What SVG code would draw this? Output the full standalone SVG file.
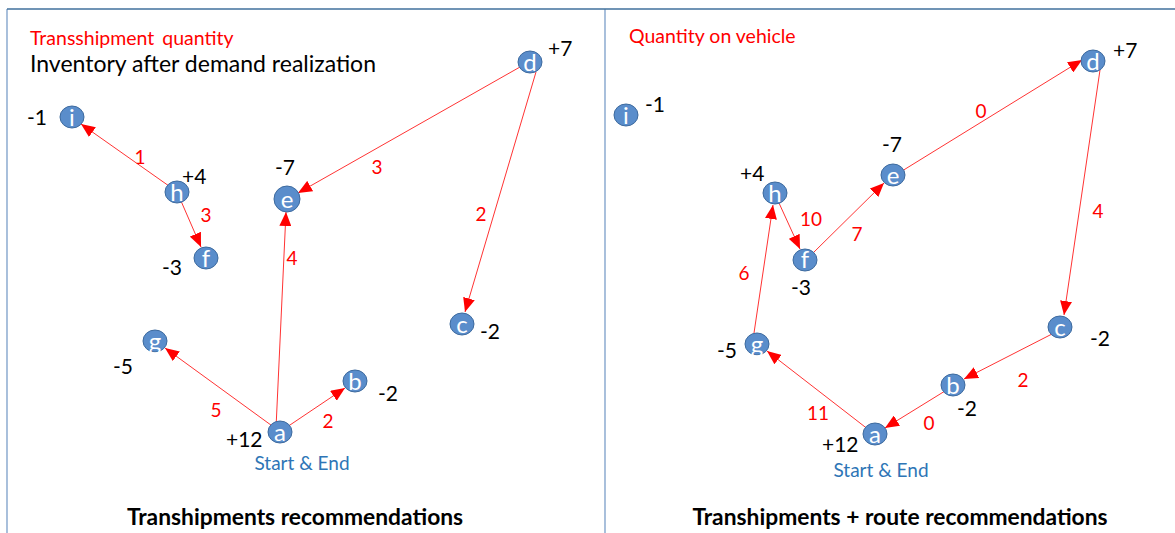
<svg xmlns="http://www.w3.org/2000/svg" width="1175" height="533" viewBox="0 0 1175 533">
<style>
.frame{stroke:#6f95c4;stroke-width:1.2;fill:none}
.node ellipse{fill:#5a8dcb;stroke:#3d6a9e;stroke-width:1}
.node text.l{font-family:Lato,"Liberation Sans",sans-serif;font-size:24px;fill:#ffffff;text-anchor:middle}
.node text.v{font-family:Lato,"Liberation Sans",sans-serif;font-size:21px;fill:#000000}
.edge{stroke:#ff3333;stroke-width:1;fill:none;marker-end:url(#ah)}
.el{font-family:Lato,"Liberation Sans",sans-serif;font-size:19px;fill:#ff0000;text-anchor:middle}
.red{font-family:Lato,"Liberation Sans",sans-serif;font-size:19.5px;fill:#ff0000}
.blk{font-family:Lato,"Liberation Sans",sans-serif;font-size:23px;fill:#000000}
.se{font-family:Lato,"Liberation Sans",sans-serif;font-size:19px;fill:#2e75b6;text-anchor:middle}
.title{font-family:Lato,"Liberation Sans",sans-serif;font-size:22.8px;font-weight:bold;fill:#000000;text-anchor:middle}
</style>
<defs>
<marker id="ah" viewBox="0 0 14 12" refX="14" refY="6" markerWidth="14" markerHeight="12" markerUnits="userSpaceOnUse" orient="auto">
<path d="M0,0 L14,6 L0,12 z" fill="#ff0000"/>
</marker>
</defs>
<rect width="1175" height="533" fill="#ffffff"/>
<g id="frames">
<line class="frame" x1="7" y1="9" x2="7" y2="533"/>
<line class="frame" x1="605" y1="9" x2="605" y2="533"/>
<line x1="7" y1="9" x2="1175" y2="9" stroke="#41719c" stroke-width="1.5"/>
</g>
<g id="left-texts">
<text class="red" x="30" y="45" word-spacing="3">Transshipment quantity</text>
<text class="blk" x="30" y="72">Inventory after demand realization</text>
<text class="se" x="302" y="470">Start &amp; End</text>
<text class="title" x="295" y="525">Transhipments recommendations</text>
</g>
<g id="right-texts">
<text class="red" x="629" y="43">Quantity on vehicle</text>
<text class="se" x="881" y="477">Start &amp; End</text>
<text class="title" x="900" y="525">Transhipments + route recommendations</text>
</g>
<g id="connectors">
<line class="edge" x1="169" y1="186" x2="81" y2="124"/>
<line class="edge" x1="181" y1="201" x2="201" y2="247"/>
<line class="edge" x1="520" y1="67" x2="298" y2="193"/>
<line class="edge" x1="536" y1="72" x2="465" y2="312"/>
<line class="edge" x1="276" y1="428" x2="286" y2="212"/>
<line class="edge" x1="275" y1="428" x2="165" y2="348"/>
<line class="edge" x1="287" y1="427" x2="345" y2="388"/>
<line class="edge" x1="869" y1="430" x2="767" y2="351"/>
<line class="edge" x1="754" y1="333" x2="773" y2="205"/>
<line class="edge" x1="779" y1="203" x2="800" y2="249"/>
<line class="edge" x1="813" y1="253" x2="884" y2="183"/>
<line class="edge" x1="902" y1="171" x2="1082" y2="60"/>
<line class="edge" x1="1100" y1="70" x2="1064" y2="315"/>
<line class="edge" x1="1052" y1="334" x2="964" y2="379"/>
<line class="edge" x1="945" y1="391" x2="885" y2="428"/>
<text class="el" x="140" y="164">1</text>
<text class="el" x="206" y="222">3</text>
<text class="el" x="377" y="174">3</text>
<text class="el" x="481" y="221">2</text>
<text class="el" x="292" y="265">4</text>
<text class="el" x="216" y="417">5</text>
<text class="el" x="328" y="428">2</text>
<text class="el" x="818" y="420">11</text>
<text class="el" x="744" y="280">6</text>
<text class="el" x="811" y="226">10</text>
<text class="el" x="857" y="241">7</text>
<text class="el" x="981" y="118">0</text>
<text class="el" x="1098" y="218">4</text>
<text class="el" x="1023" y="387">2</text>
<text class="el" x="929" y="430">0</text>
</g>
<g id="L-i" class="node"><ellipse cx="72" cy="117" rx="12" ry="11"/><text class="l" x="72" y="126">i</text><text class="v" x="27" y="125">-1</text></g>
<g id="L-h" class="node"><ellipse cx="177" cy="192" rx="12" ry="11"/><text class="l" x="177" y="201">h</text><text class="v" x="182" y="184">+4</text></g>
<g id="L-e" class="node"><ellipse cx="287" cy="199" rx="13" ry="13"/><text class="l" x="287" y="208">e</text><text class="v" x="275" y="175">-7</text></g>
<g id="L-f" class="node"><ellipse cx="206" cy="258" rx="12" ry="11"/><text class="l" x="206" y="267">f</text><text class="v" x="162" y="275">-3</text></g>
<g id="L-d" class="node"><ellipse cx="530" cy="62" rx="12" ry="11"/><text class="l" x="530" y="71">d</text><text class="v" x="548" y="56">+7</text></g>
<g id="L-c" class="node"><ellipse cx="462" cy="324" rx="12" ry="11"/><text class="l" x="462" y="333">c</text><text class="v" x="480" y="339">-2</text></g>
<g id="L-g" class="node"><ellipse cx="155" cy="341" rx="12" ry="11"/><text class="l" x="155" y="350">g</text><text class="v" x="113" y="374">-5</text></g>
<g id="L-b" class="node"><ellipse cx="355" cy="381" rx="12" ry="11"/><text class="l" x="355" y="390">b</text><text class="v" x="378" y="401">-2</text></g>
<g id="L-a" class="node"><ellipse cx="280" cy="432" rx="12" ry="11"/><text class="l" x="280" y="441">a</text><text class="v" x="226" y="447">+12</text></g>
<g id="R-i" class="node"><ellipse cx="626" cy="115" rx="12" ry="11"/><text class="l" x="626" y="124">i</text><text class="v" x="645" y="112">-1</text></g>
<g id="R-h" class="node"><ellipse cx="775" cy="193" rx="12" ry="11"/><text class="l" x="775" y="202">h</text><text class="v" x="740" y="181">+4</text></g>
<g id="R-e" class="node"><ellipse cx="893" cy="175" rx="12" ry="11"/><text class="l" x="893" y="184">e</text><text class="v" x="882" y="152">-7</text></g>
<g id="R-f" class="node"><ellipse cx="805" cy="260" rx="12" ry="11"/><text class="l" x="805" y="268">f</text><text class="v" x="791" y="295">-3</text></g>
<g id="R-d" class="node"><ellipse cx="1093" cy="61" rx="12" ry="11"/><text class="l" x="1093" y="70">d</text><text class="v" x="1113" y="58">+7</text></g>
<g id="R-c" class="node"><ellipse cx="1060" cy="327" rx="12" ry="11"/><text class="l" x="1060" y="336">c</text><text class="v" x="1090" y="346">-2</text></g>
<g id="R-g" class="node"><ellipse cx="757" cy="344" rx="12" ry="11"/><text class="l" x="757" y="353">g</text><text class="v" x="717" y="358">-5</text></g>
<g id="R-b" class="node"><ellipse cx="953" cy="385" rx="12" ry="11"/><text class="l" x="953" y="394">b</text><text class="v" x="957" y="416">-2</text></g>
<g id="R-a" class="node"><ellipse cx="875" cy="434" rx="12" ry="11"/><text class="l" x="875" y="443">a</text><text class="v" x="822" y="452">+12</text></g>
</svg>
